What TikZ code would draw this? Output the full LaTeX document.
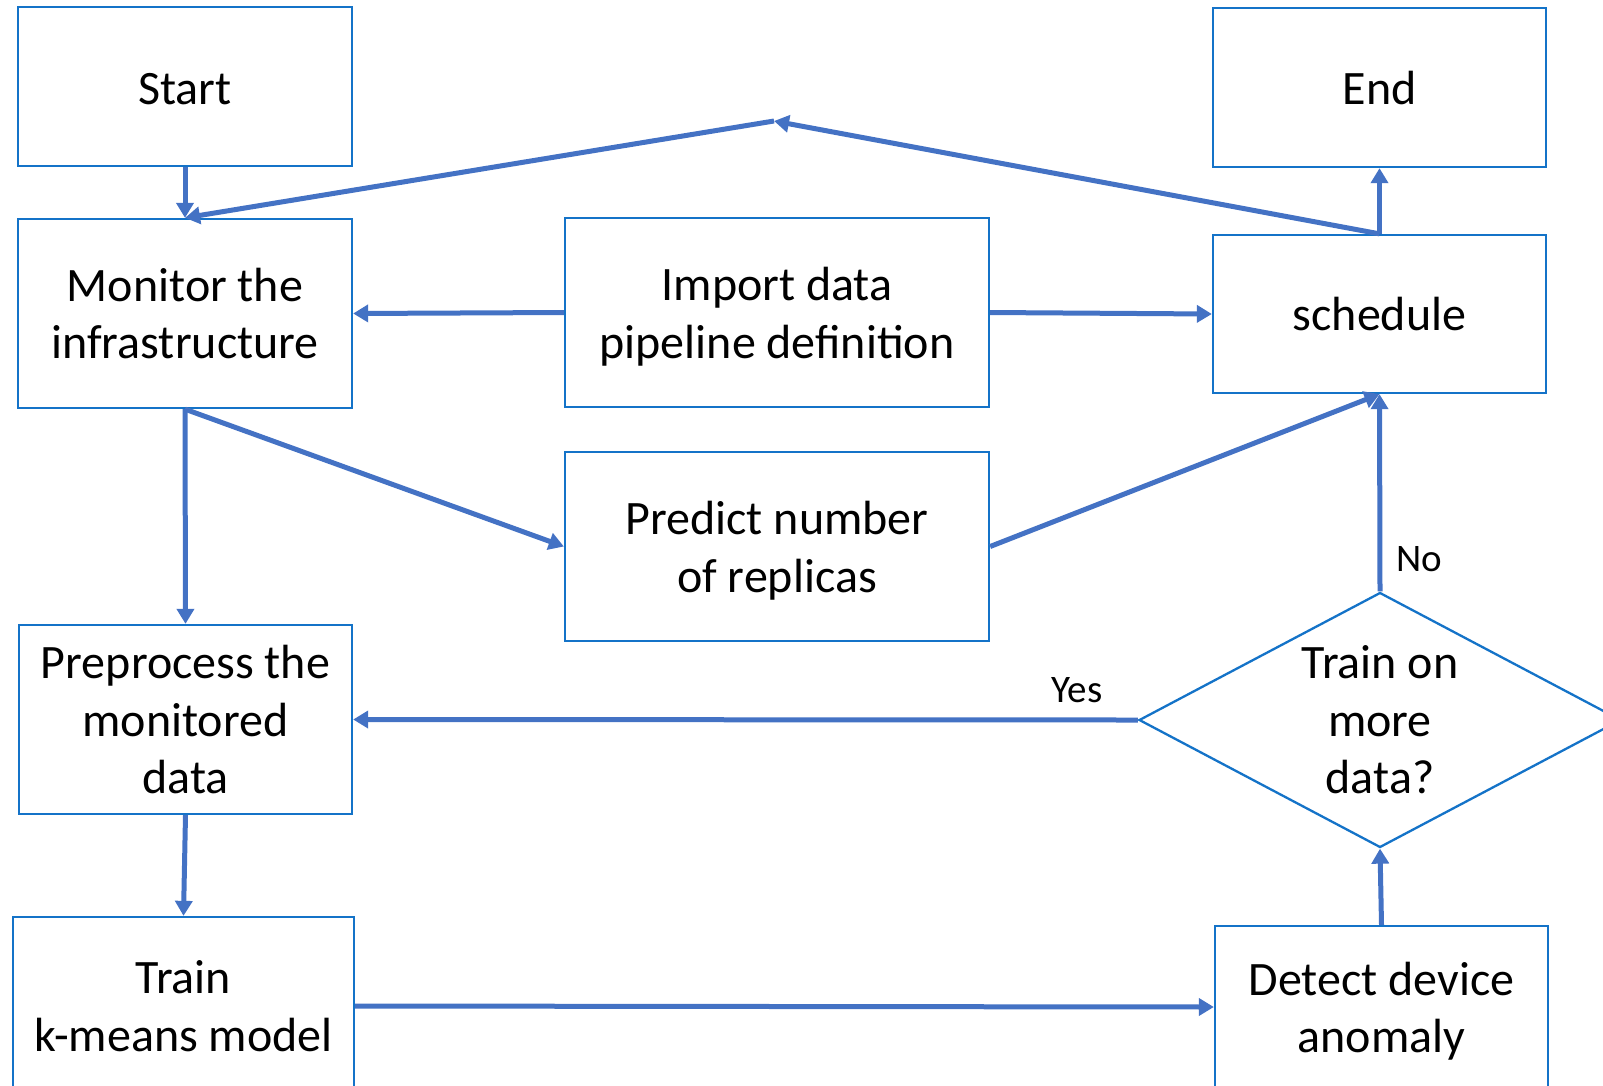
\documentclass[tikz,border=0pt]{standalone}
\usepackage{fontspec}
\setmainfont{Carlito}
\usetikzlibrary{arrows.meta,shapes.geometric}
\definecolor{boxblue}{RGB}{20,115,200}
\definecolor{linkblue}{RGB}{68,114,196}
\begin{document}
\begin{tikzpicture}[x=1pt,y=-1pt,
  stepbox/.style={draw=boxblue,line width=2.3pt,fill=white,inner sep=0pt,
    align=center,font=\fontsize{48}{57.5}\selectfont},
  conn/.style={draw=linkblue,line width=5pt,
    -{Triangle[length=15pt,width=17pt]}},
  tag/.style={font=\fontsize{39}{47}\selectfont},
  txt/.style={align=center,inner sep=0pt,font=\fontsize{48}{57.5}\selectfont}]
\useasboundingbox (0,0) rectangle (1603,1085);
\clip (0,0) rectangle (1603,1085);

% process boxes
\node[stepbox,minimum width=334pt,minimum height=159pt] (start) at (185,86.5) {};
\node[txt] (starttxt) at (185,89) {Start};
\node[stepbox,minimum width=334pt,minimum height=189pt] (monitor) at (185,313.5) {Monitor the\\infrastructure};
\node[stepbox,minimum width=424pt,minimum height=189pt] (import) at (777,312.5) {};
\node[txt] (importtxt) at (777,316.5) {Import data\\pipeline definition};
\node[stepbox,minimum width=333pt,minimum height=158pt] (sched) at (1379.5,314) {schedule};
\node[stepbox,minimum width=333pt,minimum height=159pt] (end) at (1379.5,87.5) {End};
\node[stepbox,minimum width=424pt,minimum height=189pt] (predict) at (777,546.5) {};
\node[txt] (predicttxt) at (777,550.5) {Predict number\\of replicas};
\node[stepbox,minimum width=333pt,minimum height=189pt] (prep) at (185.5,719.5) {Preprocess the\\monitored\\data};
\node[stepbox,minimum width=341pt,minimum height=178pt] (train) at (183.5,1006) {Train\\k-means model};
\node[stepbox,minimum width=333pt,minimum height=162pt] (detect) at (1381.5,1007) {};
\node[txt] (detecttxt) at (1381.5,1011) {Detect device\\anomaly};

% decision
\node[diamond,draw=boxblue,line width=2.3pt,fill=white,inner sep=0pt,
  minimum width=482pt,minimum height=255pt,
  label={[align=center,font=\fontsize{48}{57.5}\selectfont]center:Train on\\more\\data?}] (dec) at (1380,720) {};

% loop-back bend point
\coordinate (peak) at (774,121);

% connectors
\draw[conn] (start.south) -- (monitor.north);
\draw[conn] (sched.north) -- (end.south);
\draw[conn] (sched.north) -- (peak);
\draw[conn] (peak) -- (monitor.north);
\draw[conn] (import.west) -- (monitor.east);
\draw[conn] (import.east) -- (sched.west);
\draw[conn] (monitor.south) -- (prep.north);
\draw[conn] (monitor.south) -- (predict.west);
\draw[conn] (predict.east) -- (sched.south);
\draw[conn] (dec.north) -- (sched.south);
\draw[conn] (dec.west) -- (prep.east);
\draw[conn] (prep.south) -- (train.north);
\draw[conn] (train.east) -- (detect.west);
\draw[conn] (detect.north) -- (dec.south);

% branch labels
\node[tag] (no) at (1419,559) {No};
\node[tag] (yes) at (1077,690) {Yes};
\end{tikzpicture}
\end{document}
